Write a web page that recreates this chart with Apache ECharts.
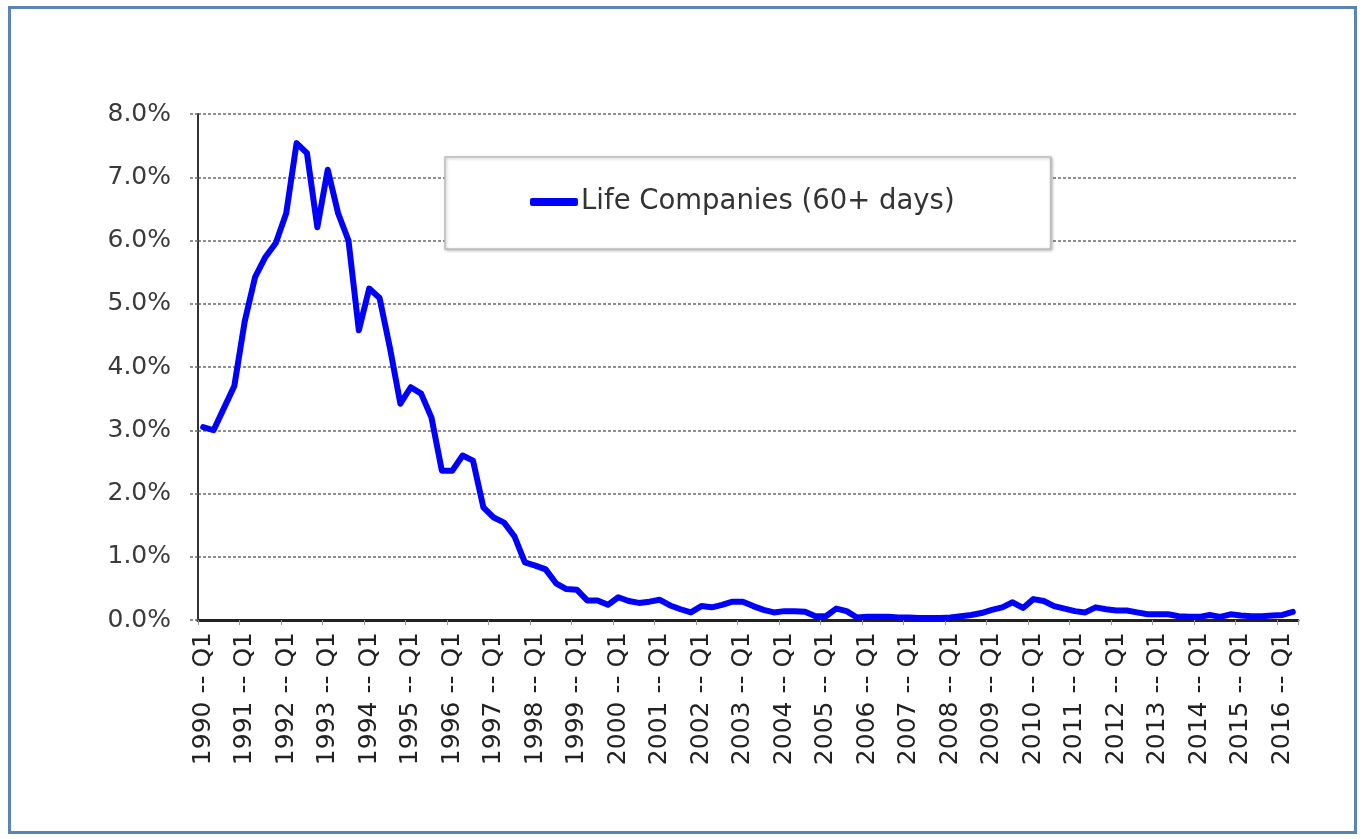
<!DOCTYPE html>
<html lang="en" style="height: 100%">
<head>
    <meta charset="utf-8">
    <title>Life Companies delinquency (60+ days)</title>
    <script src="https://cdn.jsdelivr.net/npm/echarts@6/dist/echarts.min.js"></script>
    <style>
        body {
            margin: 0;
            background: #ffffff;
        }
        .frame {
            position: absolute;
            left: 8px;
            top: 6px;
            width: 1349px;
            height: 828px;
            border: 3px solid #5b84b6;
            box-sizing: border-box;
        }
        #main {
            position: absolute;
            left: 0;
            top: 0;
            width: 1364px;
            height: 839px;
        }
    </style>
</head>
<body>
    <div class="frame"></div>
    <div id="main"></div>

    <script>
        // data (percent)
        var years = [1990, 1991, 1992, 1993, 1994, 1995, 1996, 1997, 1998, 1999, 2000, 2001, 2002,
            2003, 2004, 2005, 2006, 2007, 2008, 2009, 2010, 2011, 2012, 2013, 2014, 2015, 2016];
        var quarters = ['Q1', 'Q2', 'Q3', 'Q4'];
        var seriesName = 'Life Companies (60+ days)';
        var lifeValues = [
            3.05, 3.00, 3.35, 3.70, 4.72, 5.42, 5.74, 5.96, 6.43, 7.54, 7.38, 6.21,
            7.12, 6.43, 6.00, 4.58, 5.24, 5.09, 4.30, 3.42, 3.68, 3.58, 3.20, 2.36,
            2.36, 2.60, 2.52, 1.78, 1.62, 1.54, 1.32, 0.91, 0.86, 0.80, 0.58, 0.49,
            0.48, 0.31, 0.31, 0.24, 0.36, 0.30, 0.27, 0.29, 0.32, 0.23, 0.17, 0.12,
            0.22, 0.20, 0.24, 0.29, 0.29, 0.22, 0.16, 0.12, 0.14, 0.14, 0.13, 0.06,
            0.06, 0.18, 0.14, 0.04, 0.05, 0.05, 0.05, 0.04, 0.04, 0.03, 0.03, 0.03,
            0.04, 0.06, 0.08, 0.11, 0.16, 0.20, 0.28, 0.19, 0.33, 0.30, 0.22, 0.18,
            0.14, 0.12, 0.20, 0.17, 0.15, 0.15, 0.12, 0.09, 0.09, 0.09, 0.06, 0.05,
            0.05, 0.08, 0.05, 0.09, 0.07, 0.06, 0.06, 0.07, 0.08, 0.13
        ];

        // quarter labels, 1990 Q1 onwards, one per value
        var categories = [];
        years.forEach(function (y) {
            quarters.forEach(function (q) {
                categories.push(y + ' -- ' + q);
            });
        });
        categories = categories.slice(0, lifeValues.length);

        var chart = echarts.init(document.getElementById('main'));
        var fontFam = '"DejaVu Sans", sans-serif';
        var gridLine = { color: '#6a6a6a', width: 1.5, type: [3, 2] };

        var option = {
            animation: false,
            grid: { left: 198, right: 66, top: 114, bottom: 219 },
            legend: {
                left: 445,
                top: 157,
                padding: [31, 96, 33, 85],
                backgroundColor: '#ffffff',
                borderColor: '#bdbdbd',
                borderWidth: 1.5,
                shadowColor: 'rgba(0,0,0,0.25)',
                shadowBlur: 3,
                shadowOffsetX: 1,
                shadowOffsetY: 1,
                itemWidth: 48,
                itemHeight: 8,
                itemGap: 0,
                icon: 'roundRect',
                textStyle: { fontFamily: fontFam, fontSize: 27.5, color: '#333333', padding: [0, 0, 0, -2] },
                data: [seriesName]
            },
            xAxis: {
                type: 'category',
                data: categories,
                boundaryGap: true,
                axisLine: { lineStyle: { color: '#222222', width: 3 } },
                axisTick: { show: true, interval: 3, length: 5, lineStyle: { color: '#999999', width: 1 } },
                axisLabel: {
                    interval: 3,
                    rotate: 90,
                    margin: 12,
                    fontFamily: fontFam,
                    fontSize: 25,
                    color: '#222222'
                },
                splitLine: { show: false }
            },
            yAxis: {
                type: 'value',
                min: 0,
                max: 8,
                interval: 1,
                axisLine: { show: true, lineStyle: { color: '#333333', width: 2 } },
                axisTick: { show: true, length: 9, lineStyle: gridLine },
                axisLabel: {
                    margin: 27,
                    fontFamily: fontFam,
                    fontSize: 25,
                    color: '#3a3a3a',
                    formatter: function (v) { return v.toFixed(1) + '%'; }
                },
                splitLine: { show: true, lineStyle: gridLine }
            },
            series: [{
                name: seriesName,
                type: 'line',
                data: lifeValues,
                symbol: 'none',
                smooth: false,
                itemStyle: { color: '#0000ff' },
                lineStyle: { color: '#0000ff', width: 6, join: 'round', cap: 'round' },
                z: 3
            }]
        };

        chart.setOption(option);
    </script>
</body>
</html>
